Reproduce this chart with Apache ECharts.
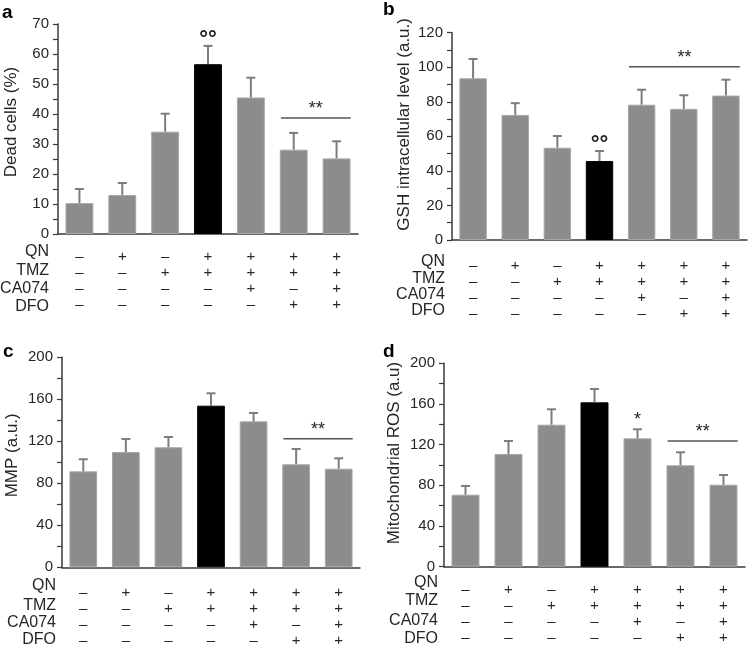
<!DOCTYPE html>
<html><head><meta charset="utf-8">
<script src="https://cdn.jsdelivr.net/npm/echarts@6/dist/echarts.min.js"></script>
<style>html,body{margin:0;padding:0;background:#fff}#c{width:750px;height:649px}</style>
</head><body><div id="c"></div>
<script>
// ---- data ----
const groups = ['G1','G2','G3','G4','G5','G6','G7'];
const rowNames = ['QN','TMZ','CA074','DFO'];
const qnRow    = ['–','+','–','+','+','+','+'];
const tmzRow   = ['–','–','+','+','+','+','+'];
const ca074Row = ['–','–','–','–','+','–','+'];
const dfoRow   = ['–','–','–','–','–','+','+'];

const deadCells    = [10.3, 13.0, 34.1, 56.6, 45.5, 28.1, 25.2];
const deadCellsErr = [4.7, 4.0, 6.0, 6.1, 6.6, 5.6, 5.7];
const gsh          = [93.6, 72.4, 53.4, 45.7, 78.3, 75.9, 83.6];
const gshErr       = [11.2, 6.8, 6.8, 5.8, 8.7, 7.9, 9.2];
const mmp          = [91.4, 109.8, 114.3, 153.9, 139.0, 98.1, 93.9];
const mmpErr       = [11.5, 12.4, 9.8, 11.8, 8.0, 14.6, 9.9];
const ros          = [70.8, 110.8, 139.6, 161.6, 126.2, 99.7, 80.6];
const rosErr       = [8.6, 12.8, 15.2, 13.1, 8.9, 12.8, 9.6];
const highlightIndex = 3;

const yTitles = ['Dead cells (%)', 'GSH intracellular level (a.u.)', 'MMP (a.u.)', 'Mitochondrial ROS (a.u)'];
const yMax = [70, 120, 200, 200];
const yStep = [10, 20, 40, 40];
const panelLetters = ['a','b','c','d'];

// marks above single bars: [barIndex, value, text]
const markA = [[3, 66, '°°']];
const markB = [[3, 57.5, '°°']];
const markC = [];
const markD = [[4, 145, '*']];
// significance bars: [fromIndex, toIndex, value, text]
const sigA = [[5, 6, 38.7, '**']];
const sigB = [[4, 6, 100.3, '**']];
const sigC = [[5, 6, 122.5, '**']];
const sigD = [[5, 6, 123.6, '**']];

// ---- layout ----
const grids = [
  {left: 58, top: 24, width: 300, height: 210},
  {left: 452, top: 32.7, width: 295, height: 207.3},
  {left: 62, top: 357.3, width: 298, height: 210},
  {left: 444, top: 363.3, width: 301, height: 203.4}
];
const labelMargins = [15, 18, 17.5, 15.5];
const nameGaps = [38, 39, 41, 41];
const rowNameX = [49, 445, 56, 438];
const rowNameY = [[252, 271, 289, 307], [262, 279, 295, 311], [585.5, 605.5, 623, 640], [583, 601, 621, 639]];
const letterPos = [[2, 13], [383, 10], [3, 352], [383, 352]];
const titleOffsets = [7, 12, 7, 12];

const FONT = 'Liberation Sans, Arial, sans-serif';
const GRAY = '#8c8c8c';
const ERR = '#7d7d7d';
const AX = '#3a3a3a';
const TXT = '#262626';

const values = [deadCells, gsh, mmp, ros];
const errs = [deadCellsErr, gshErr, mmpErr, rosErr];
const marks = [markA, markB, markC, markD];
const sigs = [sigA, sigB, sigC, sigD];

function errRender(params, api) {
  const x = api.value(0), v = api.value(1), e = api.value(2);
  const p0 = api.coord([x, v]);
  const p1 = api.coord([x, v + e]);
  const hw = 4.5;
  const st = {stroke: ERR, lineWidth: 2};
  return {type: 'group', children: [
    {type: 'line', shape: {x1: p0[0], y1: p0[1], x2: p1[0], y2: p1[1]}, style: st},
    {type: 'line', shape: {x1: p1[0] - hw, y1: p1[1], x2: p1[0] + hw, y2: p1[1]}, style: st}
  ]};
}
function sigRender(params, api) {
  const a = api.value(0), b = api.value(1), v = api.value(2);
  const p1 = api.coord([a, v]);
  const p2 = api.coord([b, v]);
  const bw = api.size([1, 0])[0];
  const x1 = p1[0] - bw * 0.3, x2 = p2[0] + bw * 0.33;
  return {type: 'group', children: [
    {type: 'line', shape: {x1: x1, y1: p1[1], x2: x2, y2: p1[1]}, style: {stroke: '#555', lineWidth: 1.5}},
    {type: 'text', style: {text: api.value(3), x: (x1 + x2) / 2, y: p1[1] - 9, align: 'center', verticalAlign: 'middle',
      fill: TXT, font: '18px ' + FONT}}
  ]};
}
function markRender(params, api) {
  const p = api.coord([api.value(0), api.value(1)]);
  const t = api.value(2);
  const isDeg = t.indexOf('°') >= 0;
  return {type: 'text', style: {text: t, x: p[0], y: p[1] + (isDeg ? 4 : 1), align: 'center', verticalAlign: 'middle',
    fill: '#222', font: (isDeg ? 'bold 22px ' : '18px ') + FONT}};
}

const option = {
  backgroundColor: '#fff',
  animation: false,
  grid: grids.map(g => Object.assign({containLabel: false}, g)),
  xAxis: grids.map((g, i) => ({
    type: 'category', gridIndex: i, data: groups,
    axisLine: {show: true, lineStyle: {color: AX, width: 1.5}},
    axisTick: {show: false},
    axisLabel: {
      margin: labelMargins[i], interval: 0, color: TXT, fontFamily: FONT, fontSize: 15, lineHeight: 16,
      formatter: (v, idx) => [qnRow[idx], tmzRow[idx], ca074Row[idx], dfoRow[idx]].join('\n')
    }
  })),
  yAxis: grids.map((g, i) => ({
    type: 'value', gridIndex: i, min: 0, max: yMax[i], interval: yStep[i],
    name: yTitles[i], nameLocation: 'middle', nameGap: nameGaps[i], nameMoveOverlap: false,
    nameTextStyle: {color: TXT, fontFamily: FONT, fontSize: 17, padding: [0, 0, 0, titleOffsets[i] * 2]},
    axisLine: {show: true, lineStyle: {color: AX, width: 1.5}},
    axisTick: {show: true, inside: false, length: 5, lineStyle: {color: AX, width: 1.2}},
    minorTick: {show: true, splitNumber: 2, length: 5, lineStyle: {color: AX, width: 1.2}},
    splitLine: {show: false},
    axisLabel: {margin: 9, color: TXT, fontFamily: FONT, fontSize: 15}
  })),
  series: [],
  graphic: []
};

for (let i = 0; i < 4; i++) {
  option.series.push({
    type: 'bar', xAxisIndex: i, yAxisIndex: i, barWidth: '65%',
    data: values[i].map((v, k) => ({value: v, itemStyle: {color: k === highlightIndex ? '#000' : GRAY,
      borderColor: k === highlightIndex ? '#000' : '#a6a6a6', borderWidth: 1}}))
  });
  option.series.push({
    type: 'custom', xAxisIndex: i, yAxisIndex: i, renderItem: errRender, z: 3,
    data: values[i].map((v, k) => [k, v, errs[i][k]])
  });
  if (sigs[i].length) option.series.push({
    type: 'custom', xAxisIndex: i, yAxisIndex: i, renderItem: sigRender, z: 4,
    data: sigs[i]
  });
  if (marks[i].length) option.series.push({
    type: 'custom', xAxisIndex: i, yAxisIndex: i, renderItem: markRender, z: 4,
    data: marks[i]
  });
  rowNames.forEach((n, r) => option.graphic.push({
    type: 'text', x: rowNameX[i], y: rowNameY[i][r],
    style: {text: n, align: 'right', verticalAlign: 'middle', fill: TXT, font: '16px ' + FONT}
  }));
  option.graphic.push({
    type: 'text', x: letterPos[i][0], y: letterPos[i][1],
    style: {text: panelLetters[i], verticalAlign: 'middle', fill: '#000', font: 'bold 19px ' + FONT}
  });
}

const chart = echarts.init(document.getElementById('c'), null, {renderer: 'canvas'});
chart.setOption(option);
</script>
</body></html>
